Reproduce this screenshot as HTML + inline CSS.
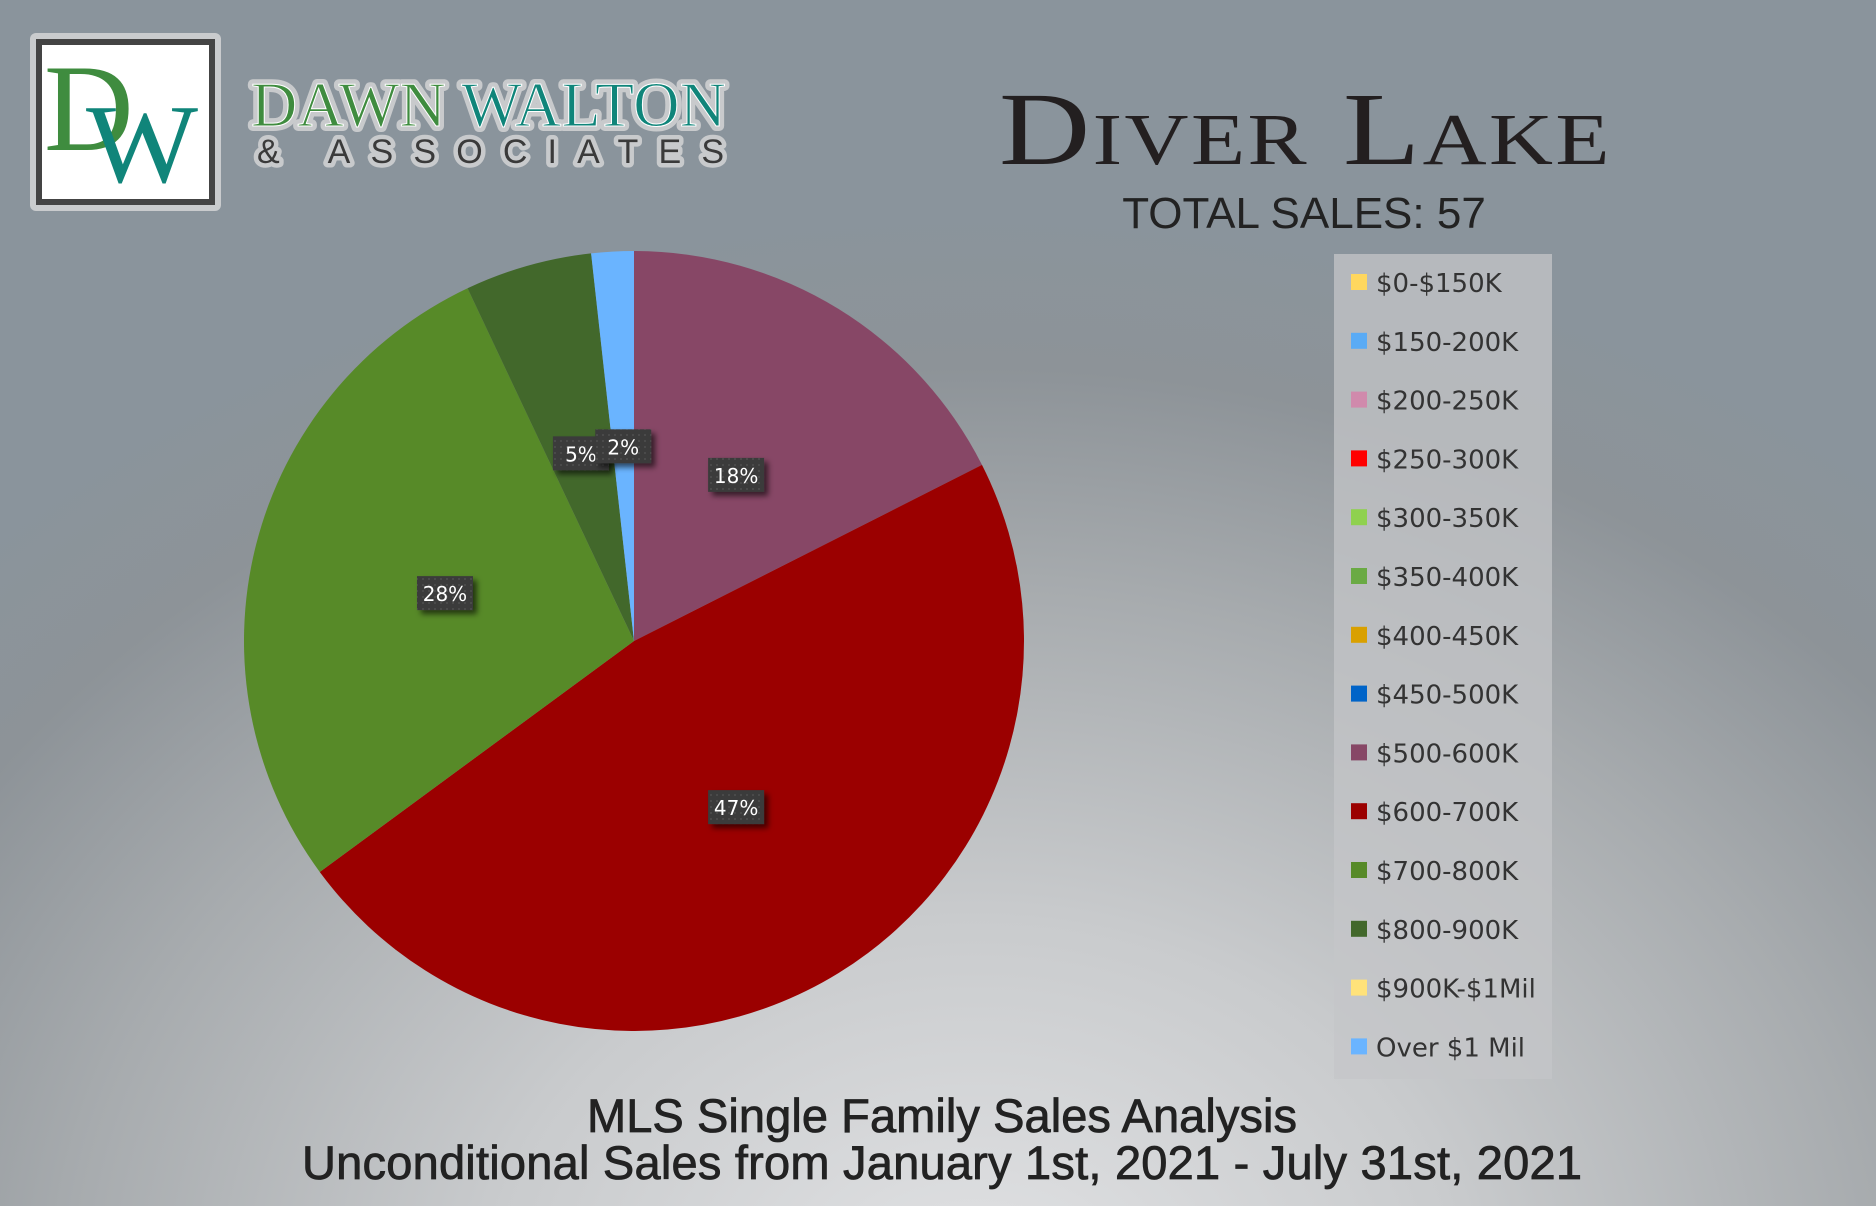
<!DOCTYPE html>
<html><head><meta charset="utf-8"><style>
html,body{margin:0;padding:0}
body{width:1876px;height:1206px;overflow:hidden;background:radial-gradient(ellipse 1400px 1100px at 52% 108%,#e2e3e5 0%,#c9cbcd 35%,#a7abae 65%,#8d9398 85%,#8a949c 100%);}
svg{position:absolute;left:0;top:0}
</style></head><body>
<svg width="1876" height="1206" viewBox="0 0 1876 1206">
<defs>
<filter id="sh" x="-30%" y="-30%" width="170%" height="170%"><feDropShadow dx="4" dy="4" stdDeviation="3" flood-color="#000" flood-opacity="0.6"/></filter>
<pattern id="dots" width="6" height="6" patternUnits="userSpaceOnUse"><rect width="6" height="6" fill="#3a3a3a"/><circle cx="3" cy="3" r="0.9" fill="#555"/></pattern>
</defs>
<g>
<rect x="30" y="33" width="191" height="178" rx="6" fill="#c9cbcd"/>
<rect x="36" y="39" width="179" height="166" fill="#444"/>
<rect x="42" y="45" width="167" height="154" fill="#fff"/>
<text x="44" y="150" font-family="Liberation Serif, serif" font-size="124" fill="#3f8c3f">D</text>
<text x="86" y="182" font-family="Liberation Serif, serif" font-size="112" fill="#10857a" textLength="112" lengthAdjust="spacingAndGlyphs">W</text>
<text x="251" y="126" textLength="475" font-family="Liberation Serif, serif" font-size="64" stroke="#c8cacc" stroke-width="10" stroke-linejoin="round" fill="#c8cacc">DAWN WALTON</text>
<text x="251" y="126" textLength="475" font-family="Liberation Serif, serif" font-size="64" stroke="#fff" stroke-width="1"><tspan fill="#3f8c3f">DAWN </tspan><tspan fill="#10857a">WALTON</tspan></text>
<text x="257" y="163" textLength="467" font-family="Liberation Sans, sans-serif" font-size="34" fill="#c8cacc" stroke="#c8cacc" stroke-width="9" stroke-linejoin="round">&amp; ASSOCIATES</text>
<text x="257" y="163" textLength="467" font-family="Liberation Sans, sans-serif" font-size="34" fill="#3a3a3a">&amp; ASSOCIATES</text>
</g>
<text x="999" y="164" textLength="613" lengthAdjust="spacingAndGlyphs" font-family="Liberation Serif, serif" font-size="104" fill="#231f20" style="font-variant:small-caps;letter-spacing:2px">Diver Lake</text>
<text x="1304" y="228" text-anchor="middle" font-family="Liberation Sans, sans-serif" font-size="44" fill="#222">TOTAL SALES: 57</text>
<g id="pie"></g>
<g id="labels"></g>
<rect x="1334" y="254" width="218" height="825" fill="#c4c6c8" opacity="0.75"/>
<g id="legend"></g>
<text x="942" y="1132" text-anchor="middle" font-family="Liberation Sans, sans-serif" font-size="47" fill="#222" stroke="#222" stroke-width="0.8" textLength="710">MLS Single Family Sales Analysis</text>
<text x="942" y="1179" text-anchor="middle" font-family="Liberation Sans, sans-serif" font-size="47" fill="#222" stroke="#222" stroke-width="0.8" textLength="1280">Unconditional Sales from January 1st, 2021 - July 31st, 2021</text>
</svg>
<script>
const categories = ["$0-$150K","$150-200K","$200-250K","$250-300K","$300-350K","$350-400K","$400-450K","$450-500K","$500-600K","$600-700K","$700-800K","$800-900K","$900K-$1Mil","Over $1 Mil"];
const sales = [0,0,0,0,0,0,0,0,10,27,16,3,0,1];
const colors = ["#ffd75e","#5aabf5","#d08aac","#ff0000","#8fd14f","#6aaa44","#d9a000","#0064c8","#874766","#9b0000","#578a28","#42682b","#ffe27a","#6ab4ff"];
const NS="http://www.w3.org/2000/svg";
const cx=634, cy=641, R=390;
const total=sales.reduce((a,b)=>a+b,0);
function pt(frac,r){const a=frac*2*Math.PI;return [cx+r*Math.sin(a), cy-r*Math.cos(a)];}
const pie=document.getElementById('pie'), lab=document.getElementById('labels');
let cum=0;
sales.forEach((v,i)=>{
  if(v<=0) return;
  const f0=cum/total, f1=(cum+v)/total; cum+=v;
  const [x0,y0]=pt(f0,R),[x1,y1]=pt(f1,R);
  const large=(f1-f0)>0.5?1:0;
  const p=document.createElementNS(NS,'path');
  p.setAttribute('d',`M${cx},${cy}L${x0},${y0}A${R},${R} 0 ${large} 1 ${x1},${y1}Z`);
  p.setAttribute('fill',colors[i]);
  
  
  pie.appendChild(p);
});
cum=0;
sales.forEach((v,i)=>{
  if(v<=0) return;
  const fm=(cum+v/2)/total; cum+=v;
  const [lx,ly]=pt(fm,R*0.5);
  const g=document.createElementNS(NS,'g');
  
  
  const r=document.createElementNS(NS,'rect');
  r.setAttribute('x',lx-28);r.setAttribute('y',ly-17);r.setAttribute('width',56);r.setAttribute('height',34);
  r.setAttribute('fill','url(#dots)');r.setAttribute('filter','url(#sh)');
  const t=document.createElementNS(NS,'text');
  t.setAttribute('x',lx);t.setAttribute('y',ly+8);t.setAttribute('text-anchor','middle');
  t.setAttribute('font-family','DejaVu Sans, sans-serif');t.setAttribute('font-size','20');t.setAttribute('fill','#fff');
  t.textContent=Math.round(v/total*100)+'%';
  g.appendChild(r);g.appendChild(t);lab.appendChild(g);
});
const leg=document.getElementById('legend');
categories.forEach((c,i)=>{
  const y=282+i*58.8;
  const g=document.createElementNS(NS,'g');
  
  
  const s=document.createElementNS(NS,'rect');
  s.setAttribute('x',1351);s.setAttribute('y',y-8);s.setAttribute('width',16);s.setAttribute('height',16);s.setAttribute('fill',colors[i]);
  const t=document.createElementNS(NS,'text');
  t.setAttribute('x',1376);t.setAttribute('y',y+10);
  t.setAttribute('font-family','DejaVu Sans, sans-serif');t.setAttribute('font-size','26');t.setAttribute('fill','#333');
  t.textContent=c;
  g.appendChild(s);g.appendChild(t);leg.appendChild(g);
});
</script>
</body></html>
